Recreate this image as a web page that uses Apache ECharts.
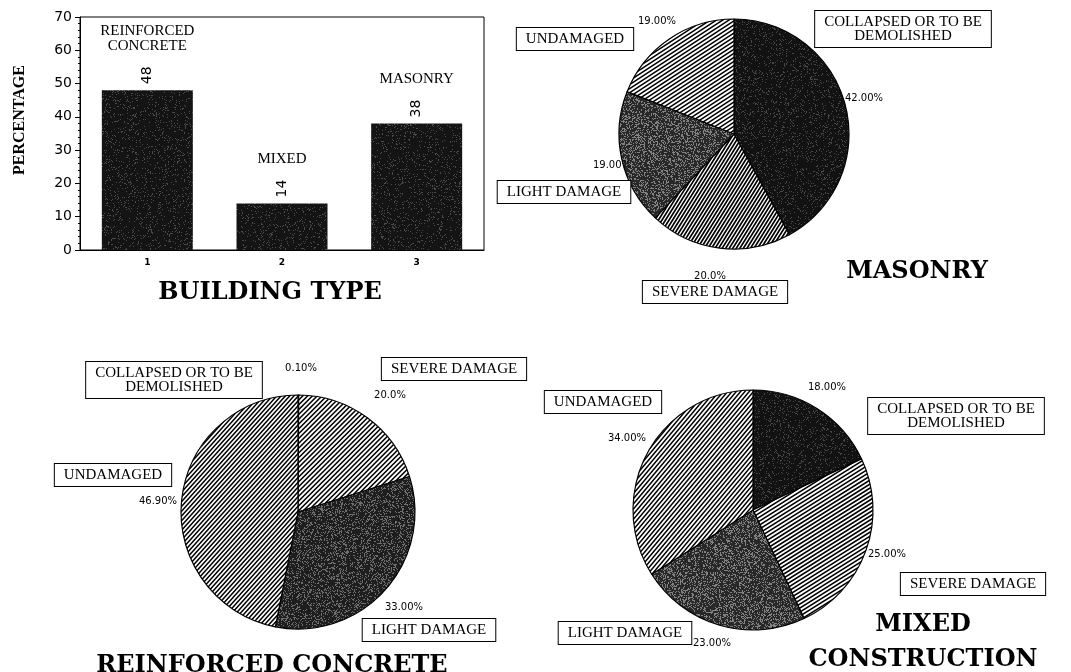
<!DOCTYPE html>
<html><head><meta charset="utf-8">
<script src="https://cdn.jsdelivr.net/npm/echarts@6/dist/echarts.min.js"></script>
<style>html,body{margin:0;padding:0;background:#fff}#c{width:1071px;height:672px}</style>
</head><body><div id="c"></div>
<script>
// ---------------- DATA ----------------
const buildingTypes = ['1', '2', '3'];
const buildingNames = ['REINFORCED\nCONCRETE', 'MIXED', 'MASONRY'];
const buildingShare = [48, 14, 38];
const yTicks = [0, 10, 20, 30, 40, 50, 60, 70];

const damageStates = ['COLLAPSED OR TO BE\nDEMOLISHED', 'SEVERE DAMAGE', 'LIGHT DAMAGE', 'UNDAMAGED'];
const masonryPct = [42, 20, 19, 19];
const masonryPctText = ['42.00%', '20.0%', '19.00%', '19.00%'];
const rcPct = [0.1, 20, 33, 46.9];
const rcPctText = ['0.10%', '20.0%', '33.00%', '46.90%'];
const mixedPct = [18, 25, 23, 34];
const mixedPctText = ['18.00%', '25.00%', '23.00%', '34.00%'];

// ---------------- LAYOUT / STYLE ----------------
const W = 1071, H = 672;
const layoutMasonry = { center: [734, 134], r: 115,
  pctPos: [[864, 98], [710, 276], [612, 165], [657, 21]],
  boxPos: [[903, 29], [715, 292], [564, 192], [575, 39]] };
const layoutRC = { center: [298, 512], r: 117,
  pctPos: [[301, 368], [390, 395], [404, 607], [158, 501]],
  boxPos: [[174, 380], [454, 369], [429, 630], [113, 475]] };
const layoutMixed = { center: [753, 510], r: 120,
  pctPos: [[827, 387], [887, 554], [712, 643], [627, 438]],
  boxPos: [[956, 416], [973, 584], [625, 633], [603, 402]] };

function hatch(angleDeg, period, lw) {
  const c = document.createElement('canvas'); c.width = W; c.height = H;
  const g = c.getContext('2d');
  g.fillStyle = '#fff'; g.fillRect(0, 0, W, H);
  g.translate(W / 2, H / 2); g.rotate(-angleDeg * Math.PI / 180);
  g.strokeStyle = '#000'; g.lineWidth = lw;
  const D = Math.hypot(W, H);
  g.beginPath();
  for (let y = -D / 2; y <= D / 2; y += period) { g.moveTo(-D / 2, y); g.lineTo(D / 2, y); }
  g.stroke();
  return { image: c, repeat: 'no-repeat' };
}
function speckle(base, dot, pct) {
  const c = document.createElement('canvas'); c.width = W; c.height = H;
  const g = c.getContext('2d');
  const img = g.createImageData(W, H);
  for (let y = 0; y < H; y++) for (let x = 0; x < W; x++) {
    let h = (x * 374761393 + y * 668265263) | 0;
    h = Math.imul(h ^ (h >>> 13), 1274126177); h = (h ^ (h >>> 16)) >>> 0;
    const v = (h % 100) < pct ? dot : base;
    const i = (y * W + x) * 4;
    img.data[i] = img.data[i + 1] = img.data[i + 2] = v; img.data[i + 3] = 255;
  }
  g.putImageData(img, 0, 0);
  return { image: c, repeat: 'no-repeat' };
}
const darkFill = speckle(18, 70, 12);
const grayFill = speckle(40, 130, 30);
const barFill = speckle(20, 75, 10);

const fillsMasonry = [darkFill, hatch(58, 3.0, 1.7), grayFill, hatch(33, 3.4, 1.5)];
const fillsRC = [darkFill, hatch(45, 3.4, 1.5), speckle(30, 110, 25), hatch(48, 3.2, 1.5)];
const fillsMixed = [darkFill, hatch(32, 3.4, 1.6), grayFill, hatch(50, 3.3, 1.5)];

const serif = 'Liberation Serif';
const sans = 'DejaVu Sans';

function pieSeries(vals, texts, L, fills) {
  const base = {
    type: 'pie', center: L.center, radius: L.r, startAngle: 90, clockwise: true,
    animation: false, silent: true, avoidLabelOverlap: false,
    labelLine: { show: false }, emphasis: { disabled: true }
  };
  return [
    Object.assign({}, base, {
      data: damageStates.map((n, i) => ({ name: n, value: vals[i], itemStyle: { color: fills[i] } })),
      itemStyle: { borderColor: '#000', borderWidth: 1.2 },
      label: { show: true, position: 'outside', formatter: p => texts[p.dataIndex],
        fontFamily: sans, fontSize: 10, color: '#000' },
      labelLayout: p => ({ x: L.pctPos[p.dataIndex][0], y: L.pctPos[p.dataIndex][1], align: 'center', verticalAlign: 'middle' })
    }),
    Object.assign({}, base, {
      data: damageStates.map((n, i) => ({ name: n, value: vals[i] })),
      itemStyle: { color: 'rgba(0,0,0,0)', borderWidth: 0 },
      label: { show: true, position: 'outside', formatter: '{b}',
        fontFamily: serif, fontSize: 15, lineHeight: 14, color: '#000', align: 'center',
        backgroundColor: '#fff', borderColor: '#000', borderWidth: 1, padding: [4, 9] },
      labelLayout: p => ({ x: L.boxPos[p.dataIndex][0], y: L.boxPos[p.dataIndex][1], align: 'center', verticalAlign: 'middle' })
    })
  ];
}

const titleStyle = { fontFamily: 'DejaVu Serif', fontWeight: 'bold', fontSize: 24, color: '#000', lineHeight: 35 };
const chart = echarts.init(document.getElementById('c'), null, { renderer: 'canvas' });
chart.setOption({
  backgroundColor: '#fff',
  animation: false,
  title: [
    { text: 'BUILDING TYPE', left: 270, top: 275, textAlign: 'center', padding: 0, textStyle: titleStyle },
    { text: 'MASONRY', left: 917, top: 254, textAlign: 'center', padding: 0, textStyle: titleStyle },
    { text: 'REINFORCED CONCRETE', left: 272, top: 648, textAlign: 'center', padding: 0, textStyle: titleStyle },
    { text: 'MIXED\nCONSTRUCTION', left: 923, top: 607, textAlign: 'center', padding: 0, textStyle: titleStyle }
  ],
  grid: { left: 80, top: 17, width: 404, height: 233, show: true, borderColor: '#000', borderWidth: 1 },
  xAxis: {
    type: 'category', data: buildingTypes,
    axisLine: { lineStyle: { color: '#000', width: 1 } }, axisTick: { show: false },
    axisLabel: { color: '#000', fontSize: 9, fontWeight: 'bold', fontFamily: sans, margin: 8 }
  },
  yAxis: {
    type: 'value', min: yTicks[0], max: yTicks[yTicks.length - 1], interval: yTicks[1] - yTicks[0],
    name: 'PERCENTAGE', nameLocation: 'middle', nameGap: 52, nameRotate: 90,
    nameTextStyle: { fontFamily: serif, fontWeight: 'bold', fontSize: 16, color: '#000', padding: [0, 0, 0, 27] },
    axisLine: { show: true, lineStyle: { color: '#000', width: 1 } },
    axisTick: { show: true, length: 5, lineStyle: { color: '#000' } },
    minorTick: { show: true, splitNumber: 5, length: 2, lineStyle: { color: '#000' } },
    splitLine: { show: false },
    axisLabel: { color: '#000', fontSize: 14, fontFamily: sans, margin: 8 }
  },
  series: [
    {
      type: 'bar', data: buildingShare, barWidth: 91, silent: true,
      itemStyle: { color: barFill },
      label: { show: true, position: 'top', rotate: 90, align: 'left', verticalAlign: 'middle',
        distance: 6, fontSize: 14, fontFamily: sans, color: '#000' }
    },
    {
      type: 'scatter', data: buildingShare, symbolSize: 1, silent: true,
      itemStyle: { color: 'rgba(0,0,0,0)', opacity: 1 },
      label: { show: true, position: 'top', distance: 36, formatter: p => buildingNames[p.dataIndex],
        fontFamily: serif, fontSize: 15, lineHeight: 15, color: '#000', opacity: 1 }
    }
  ].concat(
    pieSeries(masonryPct, masonryPctText, layoutMasonry, fillsMasonry),
    pieSeries(rcPct, rcPctText, layoutRC, fillsRC),
    pieSeries(mixedPct, mixedPctText, layoutMixed, fillsMixed)
  )
});
</script></body></html>
